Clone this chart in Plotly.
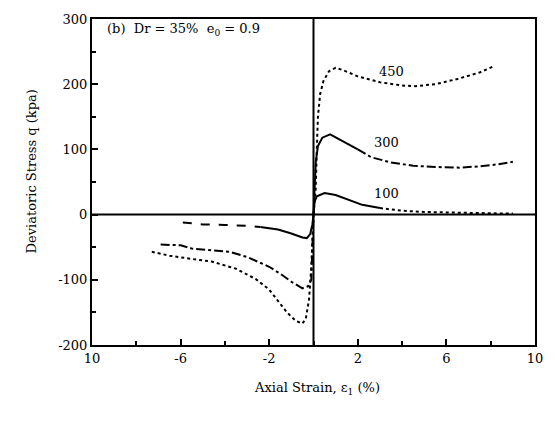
import plotly.graph_objects as go

# ---- data ----
comp450_x = [0.0, 0.1, 0.15, 0.2, 0.3, 0.45, 0.7, 1.0, 1.3, 2.0, 3.0, 4.0, 4.6, 5.5, 6.5, 7.5, 8.1]
comp450_y = [0, 40, 100, 150, 185, 205, 220, 225, 222, 212, 203, 198, 197, 200, 208, 218, 227]

comp300_x = [0.0, 0.05, 0.1, 0.2, 0.4, 0.75, 1.2, 2.0, 2.6, 3.5, 4.5, 5.5, 6.6, 7.5, 8.3, 9.0]
comp300_y = [0, 40, 80, 105, 118, 123, 115, 100, 88, 80, 75, 73, 72, 74, 77, 81]

comp100_x = [0.0, 0.05, 0.15, 0.5, 1.0, 1.6, 2.2, 3.0, 4.0, 5.0, 6.5, 8.0, 9.0]
comp100_y = [0, 20, 28, 33, 30, 23, 15, 10, 6, 4, 2.5, 2, 1.5]

ext100_x = [-5.9, -5.0, -4.0, -3.0, -2.4, -1.6, -1.0, -0.5, -0.3, -0.15, -0.05, 0.0]
ext100_y = [-12, -15, -16, -17, -19, -23, -29, -35, -36, -30, -15, 0]

ext300_x = [-6.9, -6.0, -5.5, -4.5, -3.8, -3.0, -2.0, -1.4, -1.0, -0.5, -0.25, -0.1, -0.05, 0.0]
ext300_y = [-46, -47, -52, -55, -57, -65, -80, -93, -103, -113, -110, -100, -50, 0]

ext450_x = [-7.3, -6.5, -5.5, -4.6, -3.5, -2.6, -2.0, -1.6, -1.2, -0.8, -0.5, -0.35, -0.2, -0.1, -0.03, 0.0]
ext450_y = [-57, -63, -68, -72, -83, -99, -115, -132, -150, -163, -167, -160, -130, -80, -30, 0]

x_tickvals = [-10, -6, -2, 2, 6, 10]
x_ticktext = ["10", "-6", "-2", "2", "6", "10"]
y_tickvals = [-200, -100, 0, 100, 200, 300]
y_ticktext = ["-200", "-100", "0", "100", "200", "300"]

curve_labels = ["450", "300", "100"]
label_x = [3.5, 3.3, 3.3]
label_y = [220, 110, 32]

FONT = "DejaVu Serif, Liberation Serif, serif"
BLK = "black"

fig = go.Figure()

def add(x, y, dash, width=2):
    fig.add_trace(go.Scatter(x=x, y=y, mode="lines",
                             line=dict(color=BLK, width=width, dash=dash),
                             showlegend=False, hoverinfo="skip"))

add(comp450_x, comp450_y, "dot")
s = 8
add(comp300_x[:s], comp300_y[:s], "solid")
add(comp300_x[s - 1:], comp300_y[s - 1:], "dashdot")
s = 8
add(comp100_x[:s], comp100_y[:s], "solid")
add(comp100_x[s - 1:], comp100_y[s - 1:], "dot")
s = 5
add(ext100_x[:s], ext100_y[:s], "dash")
add(ext100_x[s - 1:], ext100_y[s - 1:], "solid")
add(ext300_x, ext300_y, "dashdot")
add(ext450_x, ext450_y, "dot")

# zero lines
fig.add_shape(type="line", x0=-10, x1=10, y0=0, y1=0, line=dict(color=BLK, width=2))
fig.add_shape(type="line", x0=0, x1=0, y0=-200, y1=300, line=dict(color=BLK, width=2))

for t, xx, yy in zip(curve_labels, label_x, label_y):
    fig.add_annotation(x=xx, y=yy, text=t, showarrow=False,
                       font=dict(family=FONT, size=13, color=BLK))

fig.add_annotation(x=-9.4, y=284, xanchor="left", text="(b)  Dr = 35%  e<sub>0</sub> = 0.9",
                   showarrow=False, font=dict(family=FONT, size=13, color=BLK))

# axis titles
fig.add_annotation(xref="paper", yref="paper", x=-0.158, y=0.531, textangle=-90,
                   text="Deviatoric Stress q (kpa)", showarrow=False,
                   font=dict(family=FONT, size=13, color=BLK))
fig.add_annotation(xref="paper", yref="paper", x=0.509, y=-0.165,
                   text="Axial Strain, ε<sub>1</sub> (%)", showarrow=False,
                   font=dict(family=FONT, size=13, color=BLK))

fig.update_xaxes(range=[-10, 10], tickvals=x_tickvals, ticktext=x_ticktext,
                 ticks="inside", ticklen=6, tickwidth=2, tickcolor=BLK,
                 minor=dict(ticks="inside", dtick=2, ticklen=4, tickwidth=1.5, tickcolor=BLK),
                 showgrid=False, zeroline=False, showline=True, linecolor=BLK, linewidth=2,
                 mirror=True, tickfont=dict(family=FONT, size=13, color=BLK))
fig.update_yaxes(range=[-200, 300], tickvals=y_tickvals, ticktext=y_ticktext,
                 ticks="inside", ticklen=6, tickwidth=2, tickcolor=BLK,
                 minor=dict(ticks="inside", dtick=50, ticklen=4, tickwidth=1.5, tickcolor=BLK),
                 showgrid=False, zeroline=False, showline=True, linecolor=BLK, linewidth=2,
                 mirror=True, tickfont=dict(family=FONT, size=13, color=BLK))

fig.update_layout(width=555, height=421, margin=dict(l=92, r=15, t=12, b=76),
                  paper_bgcolor="white", plot_bgcolor="white",
                  font=dict(family=FONT, color=BLK))

fig.write_html("out.html")
